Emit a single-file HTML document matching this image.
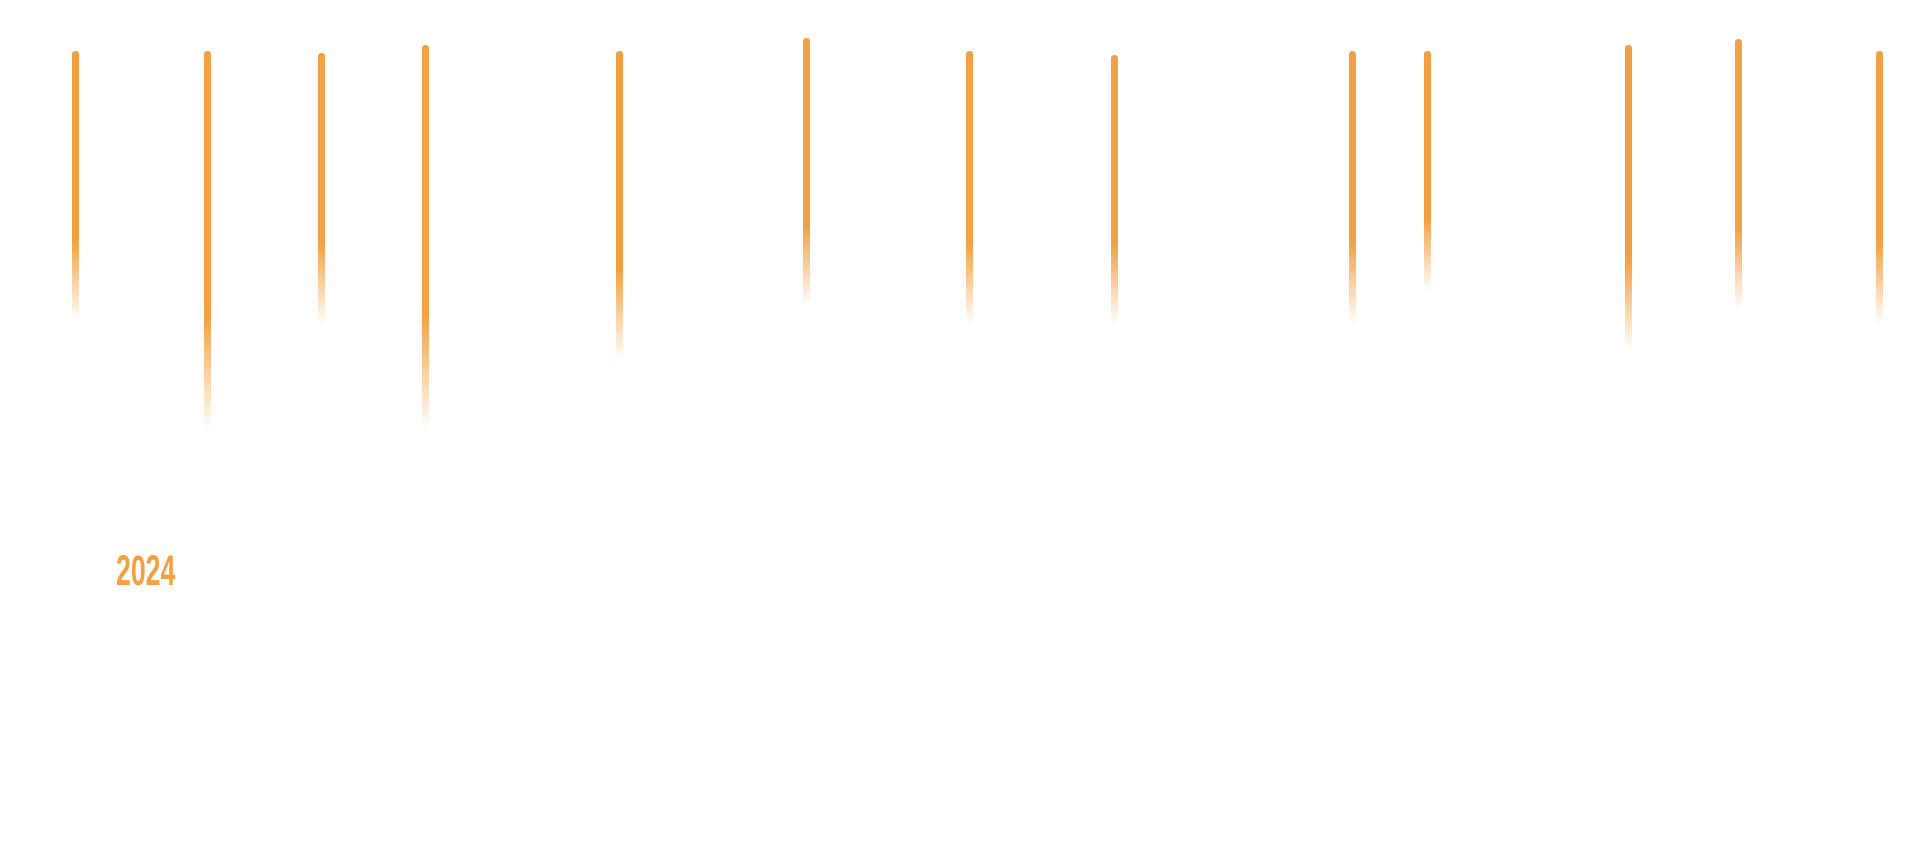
<!DOCTYPE html>
<html><head><style>
html,body{margin:0;padding:0;width:1920px;height:856px;background:#fff;overflow:hidden;position:relative}
.l{position:absolute;width:7px;border-radius:3px;background:linear-gradient(to bottom,#f2a041 0%,#f2a041 70%,rgba(242,160,65,0.5) 85%,rgba(242,160,65,0) 100%)}
.t{position:absolute;left:116px;top:550px;font:bold 43px/1 "Liberation Sans",sans-serif;color:#f2a041;transform:scaleX(0.62);transform-origin:0 0}
</style></head><body>
<div class="l" style="left:72px;top:51px;height:270px"></div>
<div class="l" style="left:204px;top:51px;height:378px"></div>
<div class="l" style="left:318px;top:53px;height:271px"></div>
<div class="l" style="left:422px;top:45px;height:384px"></div>
<div class="l" style="left:616px;top:51px;height:310px"></div>
<div class="l" style="left:803px;top:38px;height:268px"></div>
<div class="l" style="left:966px;top:51px;height:273px"></div>
<div class="l" style="left:1111px;top:55px;height:269px"></div>
<div class="l" style="left:1349px;top:51px;height:273px"></div>
<div class="l" style="left:1424px;top:51px;height:240px"></div>
<div class="l" style="left:1625px;top:45px;height:306px"></div>
<div class="l" style="left:1735px;top:39px;height:270px"></div>
<div class="l" style="left:1876px;top:51px;height:273px"></div>
<div class="t">2024</div>
</body></html>
